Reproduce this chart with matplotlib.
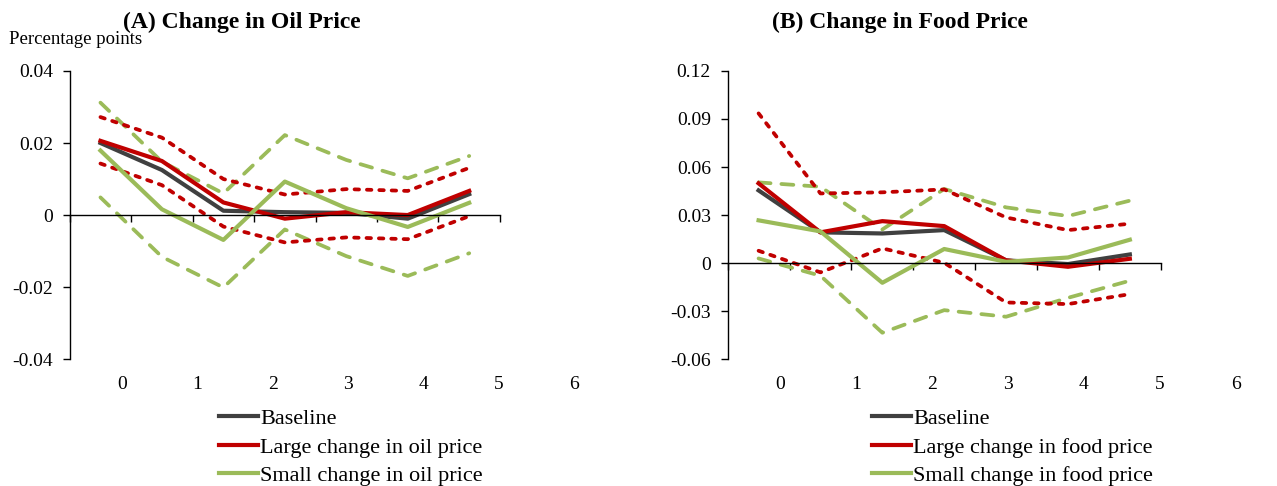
import matplotlib
matplotlib.use("Agg")
import matplotlib.pyplot as plt
import matplotlib.transforms as mtransforms

plt.rcParams["font.family"] = ["Liberation Serif", "DejaVu Serif"]

# ---------------------------------------------------------------------
#  Data
# ---------------------------------------------------------------------
horizons = [0, 1, 2, 3, 4, 5, 6]

oil_baseline = [0.0200, 0.0125, 0.0012, 0.0008, 0.0006, -0.0010, 0.0058]
oil_large = [0.0206, 0.0150, 0.0035, -0.0010, 0.0008, 0.0000, 0.0067]
oil_small = [0.0179, 0.0016, -0.0069, 0.0093, 0.0019, -0.0033, 0.0034]
oil_large_hi = [0.0272, 0.0215, 0.0100, 0.0057, 0.0072, 0.0067, 0.0131]
oil_large_lo = [0.0143, 0.0083, -0.0032, -0.0076, -0.0062, -0.0067, -0.0003]
oil_small_hi = [0.0312, 0.0148, 0.0060, 0.0222, 0.0153, 0.0102, 0.0164]
oil_small_lo = [0.0049, -0.0116, -0.0201, -0.0040, -0.0114, -0.0169, -0.0106]

food_baseline = [0.0454, 0.0192, 0.0185, 0.0206, 0.0017, -0.0006, 0.0054]
food_large = [0.0498, 0.0192, 0.0262, 0.0231, 0.0017, -0.0023, 0.0027]
food_small = [0.0267, 0.0198, -0.0123, 0.0088, 0.0008, 0.0035, 0.0146]
food_large_hi = [0.0935, 0.0435, 0.0442, 0.0460, 0.0285, 0.0206, 0.0246]
food_large_lo = [0.0077, -0.0058, 0.0092, 0.0002, -0.0246, -0.0256, -0.0194]
food_small_hi = [0.0504, 0.0477, 0.0210, 0.0463, 0.0348, 0.0294, 0.0390]
food_small_lo = [0.0029, -0.0079, -0.0435, -0.0294, -0.0335, -0.0217, -0.0110]

oil_yticks = [-0.04, -0.02, 0, 0.02, 0.04]
oil_ylabels = ["-0.04", "-0.02", "0", "0.02", "0.04"]
food_yticks = [-0.06, -0.03, 0, 0.03, 0.06, 0.09, 0.12]
food_ylabels = ["-0.06", "-0.03", "0", "0.03", "0.06", "0.09", "0.12"]

GREY = "#404040"
RED = "#C00000"
GREEN = "#9BBB59"


def draw_panel(ax, base, large, small, large_hi, large_lo, small_hi, small_lo,
               yticks, ylabels, title, kind, label_offset, label_step, title_x,
               legend_x):
    for band in (small_hi, small_lo):
        ax.plot(horizons, band, color=GREEN, lw=2.7, dashes=(3.2, 2.9),
                dash_capstyle="round")
    for band in (large_hi, large_lo):
        ax.plot(horizons, band, color=RED, lw=2.7, dashes=(1.2, 2.1),
                dash_capstyle="round")
    ax.plot(horizons, base, color=GREY, lw=3, label="Baseline")
    ax.plot(horizons, large, color=RED, lw=3, label=f"Large change in {kind} price")
    ax.plot(horizons, small, color=GREEN, lw=3, label=f"Small change in {kind} price")

    ax.set_xlim(-0.5, 6.5)
    ax.set_ylim(yticks[0], yticks[-1])
    ax.set_yticks(yticks)
    ax.set_yticklabels(ylabels, fontsize=14)
    ax.set_xticks([h - 0.5 for h in horizons] + [6.5])
    ax.set_xticklabels([])
    ax.tick_params(axis="both", direction="out", length=5, width=1, colors="black")
    ax.tick_params(axis="y", pad=7)

    for s in ("top", "right"):
        ax.spines[s].set_visible(False)
    ax.spines["bottom"].set_position(("data", 0))
    ax.spines["left"].set_linewidth(1)
    ax.spines["bottom"].set_linewidth(1)

    # category labels (offset from the plotted points, as in the original)
    trans = mtransforms.blended_transform_factory(ax.transData, ax.transAxes)
    for i, h in enumerate(horizons):
        ax.text(label_offset + label_step * i, -0.087, str(h), transform=trans,
                ha="center", va="center", fontsize=14, clip_on=False)

    ax.text(title_x, 1.17, title, transform=ax.transAxes, ha="center",
            va="center", fontsize=17, fontweight="bold")
    ax.legend(loc="upper left", bbox_to_anchor=(legend_x, -0.14), frameon=False,
              fontsize=16, handlelength=1.75, handletextpad=0.12,
              labelspacing=0.36, borderaxespad=0)


fig = plt.figure(figsize=(12.77, 4.86), dpi=100)
ax_a = fig.add_axes([0.0546, 0.261, 0.3369, 0.593])
ax_b = fig.add_axes([0.5698, 0.261, 0.3392, 0.593])

draw_panel(ax_a, oil_baseline, oil_large, oil_small, oil_large_hi, oil_large_lo,
           oil_small_hi, oil_small_lo, oil_yticks, oil_ylabels,
           "(A) Change in Oil Price", "oil", 0.357, 1.224, 0.40, 0.326)
draw_panel(ax_b, food_baseline, food_large, food_small, food_large_hi, food_large_lo,
           food_small_hi, food_small_lo, food_yticks, food_ylabels,
           "(B) Change in Food Price", "food", 0.35, 1.227, 0.398, 0.312)

fig.text(0.007, 0.918, "Percentage points", fontsize=13.5, ha="left", va="center")

fig.savefig("out.png", dpi=100)
